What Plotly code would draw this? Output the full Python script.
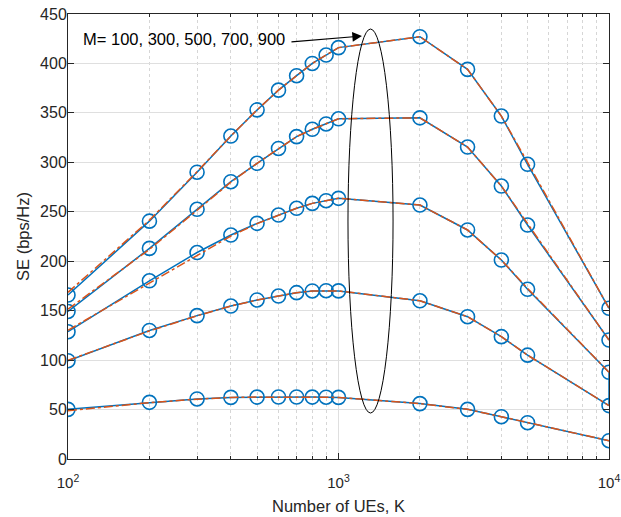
import numpy as np
import plotly.graph_objects as go

# Number of UEs
K = [100, 200, 300, 400, 500, 600, 700, 800, 900, 1000, 2000, 3000, 4000, 5000, 10000]

# Simulated sum SE (bps/Hz) for each number of BS antennas M
se_sim_m100 = [50.2, 57.3, 60.7, 62.3, 62.6, 62.7, 62.7, 62.6, 62.5, 62.3, 56.0, 50.2, 42.8, 36.7, 18.5]
se_sim_m300 = [99.4, 130.0, 145.0, 154.7, 160.8, 164.8, 168.2, 169.9, 170.2, 170.0, 160.0, 143.9, 123.7, 105.0, 54.0]
se_sim_m500 = [128.7, 180.2, 208.8, 226.5, 238.3, 246.7, 253.5, 258.5, 261.2, 263.6, 256.8, 231.6, 201.2, 171.6, 87.7]
se_sim_m700 = [149.2, 213.0, 252.5, 280.4, 299.0, 314.0, 326.0, 333.4, 338.8, 344.0, 345.0, 315.5, 276.0, 236.6, 120.3]
se_sim_m900 = [165.8, 240.5, 290.0, 326.6, 353.0, 373.0, 387.6, 400.0, 408.5, 416.0, 427.0, 394.0, 346.8, 298.0, 152.4]

# Closed-form sum SE for the same M values
se_ana_m100 = [48.8, 57.0, 60.5, 62.3, 62.6, 62.7, 62.7, 62.6, 62.5, 62.3, 56.0, 50.2, 42.8, 36.7, 18.5]
se_ana_m300 = [99.8, 129.5, 144.8, 154.7, 160.8, 164.8, 168.2, 169.9, 170.2, 170.0, 160.0, 143.9, 123.7, 105.0, 54.0]
se_ana_m500 = [130.2, 177.8, 206.5, 225.5, 238.0, 246.7, 253.5, 258.5, 261.2, 263.6, 256.8, 231.6, 201.2, 172.5, 87.7]
se_ana_m700 = [151.5, 212.0, 251.5, 280.0, 299.0, 314.0, 326.0, 333.4, 338.8, 344.0, 345.0, 315.5, 276.0, 238.0, 120.3]
se_ana_m900 = [168.5, 241.5, 290.5, 326.6, 353.0, 373.0, 387.6, 400.0, 408.5, 416.0, 427.0, 394.0, 346.8, 300.0, 152.4]

sim_curves = [se_sim_m100, se_sim_m300, se_sim_m500, se_sim_m700, se_sim_m900]
ana_curves = [se_ana_m100, se_ana_m300, se_ana_m500, se_ana_m700, se_ana_m900]

m_label = "M= 100, 300, 500, 700, 900"

# Ellipse enclosing the curve maxima and the arrow pointing to it
ellipse_x = [1084, 1591]
ellipse_y = [46.5, 434.8]
arrow_tip = (1221, 427.7)

y_ticks = list(range(0, 451, 50))
x_major = [100, 1000, 10000]
x_major_text = ["10<sup>2</sup>", "10<sup>3</sup>", "10<sup>4</sup>"]
x_minor = [v * d for d in (100, 1000) for v in range(2, 10)]

BLUE = "#0072BD"
RED = "#D95319"
AXIS = "#262626"
GRID = "#DFDFDF"
MINOR_GRID = "#D6D6D6"
FONT = "Liberation Sans, Arial, sans-serif"

fig = go.Figure()

for sim in sim_curves:
    fig.add_trace(go.Scatter(
        x=K, y=sim, mode="lines+markers",
        line=dict(color=BLUE, width=1.5),
        marker=dict(symbol="circle-open", size=14, color=BLUE, line=dict(width=1.6)),
        showlegend=False, hoverinfo="skip",
    ))

# short joining segment of the simulated lines at the largest K
fig.add_trace(go.Scatter(
    x=[K[-1], K[-1]], y=[se_sim_m300[-1], se_sim_m500[-1]], mode="lines",
    line=dict(color=BLUE, width=1.5), showlegend=False, hoverinfo="skip",
))

for ana in ana_curves:
    fig.add_trace(go.Scatter(
        x=K, y=ana, mode="lines",
        line=dict(color=RED, width=1.5, dash="dashdot"),
        showlegend=False, hoverinfo="skip",
    ))

fig.add_shape(
    type="circle", xref="x", yref="y",
    x0=ellipse_x[0], x1=ellipse_x[1], y0=ellipse_y[0], y1=ellipse_y[1],
    line=dict(color="black", width=1),
)

fig.add_annotation(
    x=np.log10(arrow_tip[0]), y=arrow_tip[1], xref="x", yref="y",
    ax=-72, ay=6, axref="pixel", ayref="pixel",
    showarrow=True, arrowhead=2, arrowsize=1.6, arrowwidth=1.2, arrowcolor="black",
    text="",
)
fig.add_annotation(
    x=np.log10(112), y=424.5, xref="x", yref="y",
    text=m_label, showarrow=False, xanchor="left", yanchor="middle",
    font=dict(family=FONT, size=16.5, color="black"),
)

fig.update_xaxes(
    type="log", range=[2, 4], automargin=False,
    tickmode="array", tickvals=x_major, ticktext=x_major_text,
    ticks="inside", ticklen=6, tickwidth=1, tickcolor=AXIS,
    showline=True, linecolor=AXIS, linewidth=1, mirror="ticks",
    showgrid=True, gridcolor=GRID, gridwidth=1,
    minor=dict(tickmode="array", tickvals=x_minor, ticks="inside", ticklen=3,
               tickcolor=AXIS, showgrid=True, gridcolor=MINOR_GRID, griddash="dot", gridwidth=1),
    tickfont=dict(family=FONT, size=15, color=AXIS),
    ticklabelstandoff=10,
    title=dict(text="Number of UEs, K", font=dict(family=FONT, size=16.5, color=AXIS), standoff=10),
    zeroline=False,
)
fig.update_yaxes(
    range=[0, 450], automargin=False, tickmode="array", tickvals=y_ticks,
    ticks="inside", ticklen=6, tickwidth=1, tickcolor=AXIS,
    showline=True, linecolor=AXIS, linewidth=1, mirror="ticks",
    showgrid=True, gridcolor=GRID, gridwidth=1,
    tickfont=dict(family=FONT, size=16, color=AXIS),
    ticklabelstandoff=-3,
    title=dict(text="SE (bps/Hz)", font=dict(family=FONT, size=16.5, color=AXIS), standoff=6),
    zeroline=False,
)

fig.update_layout(
    width=621, height=517,
    margin=dict(l=68, r=12, t=14, b=58),
    plot_bgcolor="white", paper_bgcolor="white",
    showlegend=False,
)

fig.write_html("out.html")
